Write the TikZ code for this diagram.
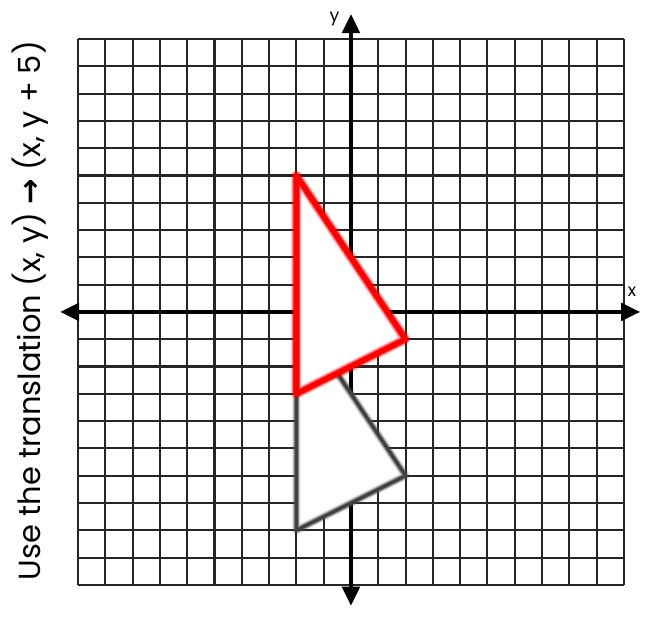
\documentclass[tikz,border=0pt]{standalone}
\usepackage{fontspec}
\setmainfont{Poppins}
\newfontfamily\symfont{DejaVu Sans}
\usetikzlibrary{arrows.meta}
\begin{document}
\begin{tikzpicture}[x=0.5cm,y=0.5cm,
  axisline/.style={line width=2.2pt,-{Triangle[length=10pt,width=9pt]}},
  gridline/.style={black!85,line width=1.1pt}]
\useasboundingbox (-12.86,-11.51) rectangle (10.81,11.43);
\draw[gridline,step=0.5cm] (-10,-10) grid (10,10);
\draw[axisline] (0,0) -- (10.6,0);
\draw[axisline] (0,0) -- (-10.66,0);
\draw[axisline] (0,0) -- (0,10.92);
\draw[axisline] (0,0) -- (0,-10.77);
\node[font=\small] (ylab) at (-0.6,10.75) {y};
\node[font=\small] (xlab) at (10.3,0.75) {x};
% pre-image, grey with soft shadow
\coordinate (A) at (-2,0); \coordinate (B) at (2,-6); \coordinate (C) at (-2,-8);
\fill[white] (A) -- (B) -- (C) -- cycle;
\foreach \w/\o in {4.5/0.12,3.5/0.25,2.6/0.5}
  \draw[black!70,line width=\w pt,opacity=\o,line join=round,xshift=0.6pt,yshift=-0.6pt] (A) -- (B) -- (C) -- cycle;
\draw[black!75,line width=1.6pt,line join=round] (A) -- (B) -- (C) -- cycle;
% image, red with glow
\coordinate (A') at (-2,5); \coordinate (B') at (2,-1); \coordinate (C') at (-2,-3);
\fill[white] (A') -- (B') -- (C') -- cycle;
\foreach \w/\o in {5.5/0.15,4.5/0.3,3.6/0.6}
  \draw[red,line width=\w pt,opacity=\o,line join=round] (A') -- (B') -- (C') -- cycle;
\draw[red,line width=2.6pt,line join=round] (A') -- (B') -- (C') -- cycle;
\node[rotate=90,font=\fontsize{15.9}{18}\selectfont] (task) at (-11.76,0.05) {Use the translation (x, y) {\symfont\bfseries →} (x, y + 5)};
\end{tikzpicture}
\end{document}
